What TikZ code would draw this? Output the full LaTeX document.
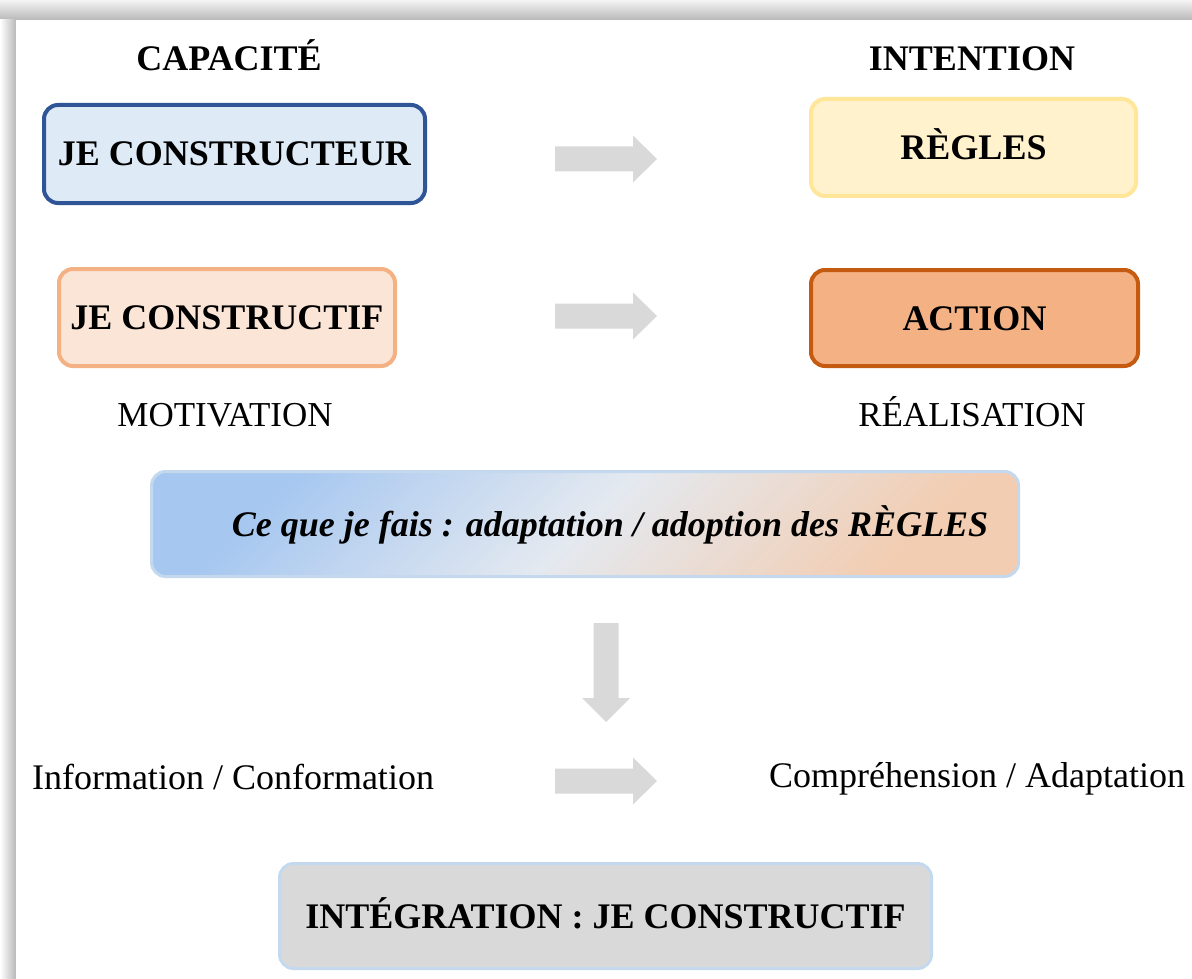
\documentclass[tikz,border=0pt]{standalone}
\usepackage{fontspec}
\setmainfont{Liberation Serif}
\definecolor{bluebd}{HTML}{2F5597}
\definecolor{bluefl}{HTML}{DEEBF7}
\definecolor{peachbd}{HTML}{F4B183}
\definecolor{peachfl}{HTML}{FBE5D6}
\definecolor{yelbd}{HTML}{FFE699}
\definecolor{yelfl}{HTML}{FFF2CC}
\definecolor{orabd}{HTML}{C55A11}
\definecolor{orafl}{HTML}{F4B183}
\definecolor{lbluebd}{HTML}{C5D9EE}
\definecolor{grayfl}{HTML}{D9D9D9}
\definecolor{arrowgray}{HTML}{D9D9D9}
\definecolor{gradA}{HTML}{A6C7F0}
\definecolor{gradB}{HTML}{E4E9F0}
\definecolor{gradC}{HTML}{F2CDB2}
\definecolor{shadowgray}{HTML}{B8B8B8}
\tikzset{
  box/.style={draw, line width=4pt, rounded corners=14pt, inner sep=0pt,
    text height=24pt, text depth=0pt, font=\bfseries\fontsize{36}{40}\selectfont},
  head/.style={anchor=base, inner sep=0pt, font=\bfseries\fontsize{36}{40}\selectfont},
  plain/.style={anchor=base, inner sep=0pt, font=\fontsize{36}{40}\selectfont},
  rarrow/.pic={\fill[arrowgray] (-51,-12.5) -- (27,-12.5) -- (27,-23.5) -- (51,0)
     -- (27,23.5) -- (27,12.5) -- (-51,12.5) -- cycle;},
  darrow/.pic={\fill[arrowgray] (-12.5,-49.5) -- (12.5,-49.5) -- (12.5,25.5) -- (24,25.5)
     -- (0,49.5) -- (-24,25.5) -- (-12.5,25.5) -- cycle;}
}
\begin{document}
\begin{tikzpicture}[x=1pt,y=-1pt]
\useasboundingbox (0,0) rectangle (1192,979);
\fill[white] (0,0) rectangle (1192,979);
% page shadow
\shade[top color=white!85!shadowgray, bottom color=shadowgray] (0,0) rectangle (1192,20);
\shade[left color=white, right color=shadowgray] (0,20) rectangle (16,979);
\fill[white] (16,20) rectangle (1192,979);

% headings
\node[head] (cap) at (229,71) {CAPACITÉ};
\node[head] (int) at (972,71) {INTENTION};

% boxes
\node[box, fill=bluefl, draw=bluebd, minimum width=381pt, minimum height=98pt] (jcr) at (234.5,154) {JE CONSTRUCTEUR};
\node[box, fill=peachfl, draw=peachbd, minimum width=336pt, minimum height=97pt] (jcf) at (227,317.5) {JE CONSTRUCTIF};
\node[box, fill=yelfl, draw=yelbd, minimum width=325pt, minimum height=97pt] (reg) at (973.5,147.5) {RÈGLES};
\node[box, fill=orafl, draw=orabd, minimum width=327pt, minimum height=96pt] (act) at (974.5,318) {ACTION};

% arrows
\pic at (606,159) {rarrow};
\pic at (606,316) {rarrow};
\pic at (606,672.5) {darrow};
\pic at (606,781) {rarrow};

% sub labels
\node[plain, font=\fontsize{35}{40}\selectfont] (mot) at (225,426) {MOTIVATION};
\node[plain, font=\fontsize{35}{40}\selectfont] (rea) at (972,426) {RÉALISATION};

% gradient box
\node[box, draw=lbluebd, line width=3pt, left color=gradA, right color=gradC, middle color=gradB, shading angle=45,
  minimum width=867pt, minimum height=105pt, font=\bfseries\itshape\fontsize{36}{40}\selectfont] (ce) at (585,524)
  {\hspace*{50pt}Ce que je fais : adaptation / adoption des RÈGLES};

% bottom row
\node[plain] (inf) at (233,789) {Information / Conformation};
\node[plain] (com) at (977,787) {Compréhension / Adaptation};

\node[box, fill=grayfl, draw=lbluebd, line width=3pt, minimum width=652pt, minimum height=105pt] (integ) at (605.5,916)
  {INTÉGRATION : JE CONSTRUCTIF};
\end{tikzpicture}
\end{document}
